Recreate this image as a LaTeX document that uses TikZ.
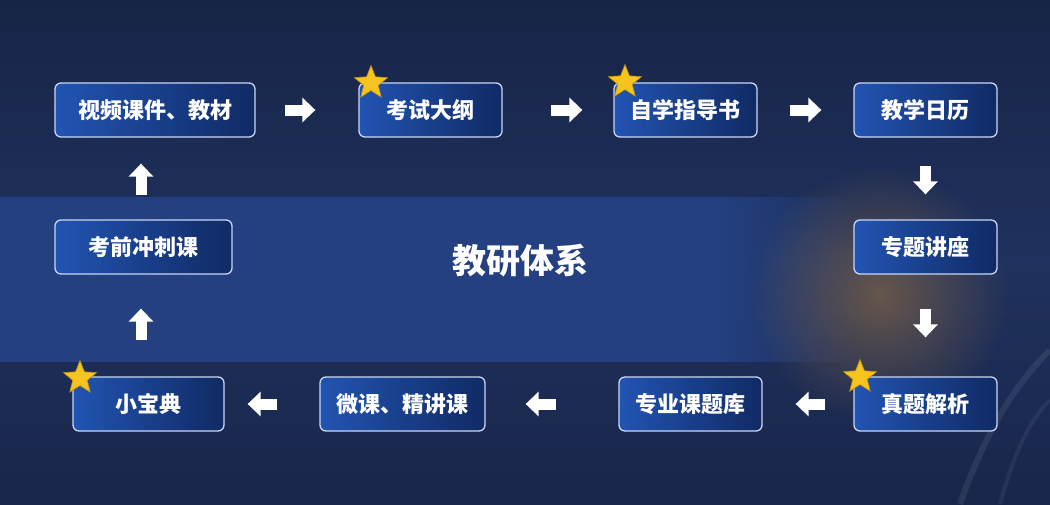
\documentclass[tikz,border=0pt]{standalone}
\usepackage{fontspec}
\newfontfamily\cjk{Noto Sans CJK SC}
\usetikzlibrary{shapes.geometric,arrows.meta,shadings,fadings}
\definecolor{bgtop}{RGB}{24,36,70}
\definecolor{bgmid}{RGB}{31,49,94}
\definecolor{bgbot}{RGB}{25,38,74}
\definecolor{bandc}{RGB}{36,64,128}
\definecolor{boxL}{RGB}{34,84,178}
\definecolor{boxR}{RGB}{16,42,100}
\definecolor{boxB}{RGB}{200,215,245}
\definecolor{starc}{RGB}{246,196,30}
\definecolor{stard}{RGB}{190,140,20}
\definecolor{glow}{RGB}{175,125,60}
\tikzfading[name=glowfade, inner color=transparent!50, outer color=transparent!100]
\tikzfading[name=bandfade, left color=transparent!0, right color=transparent!100]
\tikzset{
  stepbox/.style={draw=boxB, line width=1.3pt, rounded corners=6pt,
    left color=boxL, right color=boxR, minimum height=54pt, inner sep=0pt,
    text=white, font=\cjk\bfseries\fontsize{22}{22}\selectfont},
  flow/.style={draw=white, line width=11pt, line cap=butt,
    -{Triangle[length=13pt,width=24pt]}},
  goldstar/.style={star, star points=5, star point ratio=2.3, minimum size=35pt,
    inner sep=0pt, fill=starc, draw=stard, line width=0.6pt},
}
\begin{document}
\begin{tikzpicture}[x=1pt,y=-1pt]
\useasboundingbox (0,0) rectangle (1050,504);
% background
\shade[top color=bgtop, bottom color=bgmid] (0,0) rectangle (1050,260);
\shade[top color=bgmid, bottom color=bgbot] (0,260) rectangle (1050,504);
% band
\fill[bandc] (0,197) rectangle (720,362);
\fill[bandc, path fading=bandfade] (719,197) rectangle (860,362);
% glow
\fill[glow, path fading=glowfade] (880,295) circle (130);
% faint curves bottom right
\draw[white, opacity=0.08, line width=6pt] (960,504) .. controls (990,420) and (1020,380) .. (1050,350);
\draw[white, opacity=0.06, line width=4pt] (1000,504) .. controls (1015,450) and (1030,420) .. (1050,400);
% boxes
\node[stepbox, minimum width=200pt] (b1) at (155,110) {视频课件、教材};
\node[stepbox, minimum width=143pt] (b2) at (430.5,110) {考试大纲};
\node[stepbox, minimum width=143pt] (b3) at (685.5,110) {自学指导书};
\node[stepbox, minimum width=143pt] (b4) at (925.5,110) {教学日历};
\node[stepbox, minimum width=143pt] (b5) at (925.5,247) {专题讲座};
\node[stepbox, minimum width=143pt] (b6) at (925.5,404) {真题解析};
\node[stepbox, minimum width=143pt] (b7) at (690.5,404) {专业课题库};
\node[stepbox, minimum width=165pt] (b8) at (402.5,404) {微课、精讲课};
\node[stepbox, minimum width=151pt] (b9) at (148.5,404) {小宝典};
\node[stepbox, minimum width=177pt] (b10) at (143.5,247) {考前冲刺课};
% title
\node[text=white, font=\cjk\bfseries\fontsize{34}{34}\selectfont] (title) at (520,261) {教研体系};
% arrows
\draw[flow, shorten <=29pt, shorten >=43pt] (b1.east) -- (b2.west);
\draw[flow, shorten <=48pt, shorten >=31pt] (b2.east) -- (b3.west);
\draw[flow, shorten <=32pt, shorten >=32pt] (b3.east) -- (b4.west);
\draw[flow, shorten <=28pt, shorten >=25pt] (b4.south) -- (b5.north);
\draw[flow, shorten <=34pt, shorten >=39pt] (b5.south) -- (b6.north);
\draw[flow, shorten <=28pt, shorten >=33pt] (b6.west) -- (b7.east);
\draw[flow, shorten <=62pt, shorten >=40pt] (b7.west) -- (b8.east);
\draw[flow, shorten <=42pt, shorten >=23pt] (b8.west) -- (b9.east);
\coordinate (u1) at (141,377);
\coordinate (u2) at (141,220);
\draw[flow, shorten <=37pt, shorten >=34pt] (u1) -- (b10.south -| u1);
\draw[flow, shorten <=25pt, shorten >=26pt] (u2) -- (b1.south -| u2);
% stars
\node[goldstar] (s2) at (371,83) {};
\node[goldstar] (s3) at (625,82) {};
\node[goldstar] (s6) at (860,377) {};
\node[goldstar] (s9) at (80,378) {};
\end{tikzpicture}
\end{document}
